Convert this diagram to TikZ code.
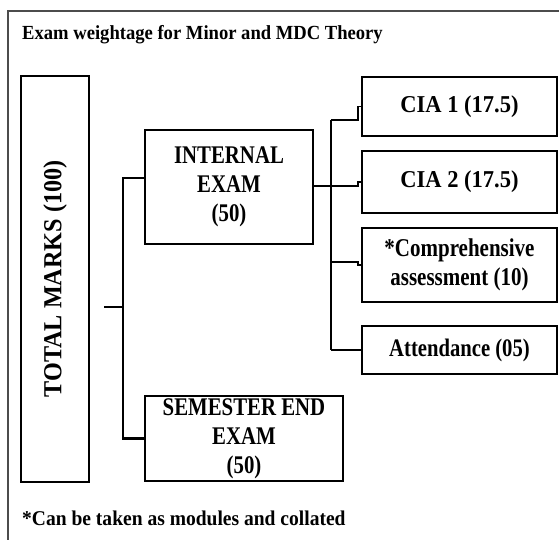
\documentclass[tikz,border=0pt]{standalone}
\usepackage{fontspec}
\setmainfont{Liberation Serif}
\newfontfamily\tallfont[FakeStretch=0.82]{Liberation Serif}
\newfontfamily\midfont[FakeStretch=0.93]{Liberation Serif}
\usetikzlibrary{positioning}
\newcommand{\boxfont}[1]{\tallfont\fontsize{#1}{29}\selectfont\bfseries}
\newcommand{\plainfont}[1]{\midfont\fontsize{#1}{29}\selectfont\bfseries}
\tikzset{box/.style={draw, line width=1.6pt, align=center, inner sep=0pt, outer sep=0pt},
	conn/.style={line width=2.4pt},
	branch/.style={line width=1.5pt}}

\begin{document}
\begin{tikzpicture}[x=1pt, y=-1pt, node distance=15pt]
	\useasboundingbox (0,0) rectangle (559,540);
	\draw[black!70, line width=1.2pt] (8,540) -- (8,11) -- (559,11);
	\node (title) [anchor=west, inner sep=0pt, font=\plainfont{20}] at (22,35) {Exam weightage for Minor and MDC Theory};
	% left part
	\node (total) [box, rotate=90, minimum width=406pt, minimum height=68pt, font=\plainfont{26}] at (55,279) {TOTAL MARKS (100)};
	\node (internal) [box, minimum width=168pt, minimum height=114pt, font=\boxfont{25.4}] at (229,187) {INTERNAL\\EXAM\\(50)};
	\node (semend) [box, minimum width=198pt, minimum height=85pt, font=\boxfont{25.4}] at (244,438.5) {SEMESTER END\\EXAM\\(50)};
	% right part
	\node (cia1) [box, minimum width=195pt, minimum height=59pt, font=\plainfont{24.2}] at (459.5,106.5) {CIA 1 (17.5)};
	\node (cia2) [box, minimum width=195pt, minimum height=62pt, font=\plainfont{24.2}, below=of cia1] {CIA 2 (17.5)};
	\node (comp) [box, minimum width=195pt, minimum height=74pt, font=\boxfont{25.6}, below=of cia2] {*Comprehensive\\assessment (10)};
	\node (attend) [box, minimum width=195pt, minimum height=48pt, font=\boxfont{25.2}, below=24pt of comp] {Attendance (05)};
	\node (note) [anchor=west, inner sep=0pt, font=\plainfont{21}] at (22,518) {*Can be taken as modules and collated};
	% connectors
	\coordinate (tstub) at (104,307);
	\coordinate (tjunc) at (123,307);
	\coordinate (rjunc) at (331,186);
	\coordinate (rtop) at (331,120);
	\coordinate (rmid) at (331,262);
	\coordinate (rbot) at (331,350);
	\draw[conn] (tstub) -- (tjunc);
	\draw[conn] ([yshift=9pt]internal.west) -| (tjunc) |- (semend.west);
	\draw[conn] (internal.east |- rjunc) -- (rjunc);
	\draw[branch] (rtop) -- (rbot);
	\draw[branch] (rtop) -- ++(27,0) |- (cia1.west);
	\draw[branch] (rjunc) -- ++(27,0) |- (cia2.west);
	\draw[branch] (rmid) -- ++(27,0) |- (comp.west);
	\draw[branch] (rbot) -- (attend.west);
\end{tikzpicture}
\end{document}
